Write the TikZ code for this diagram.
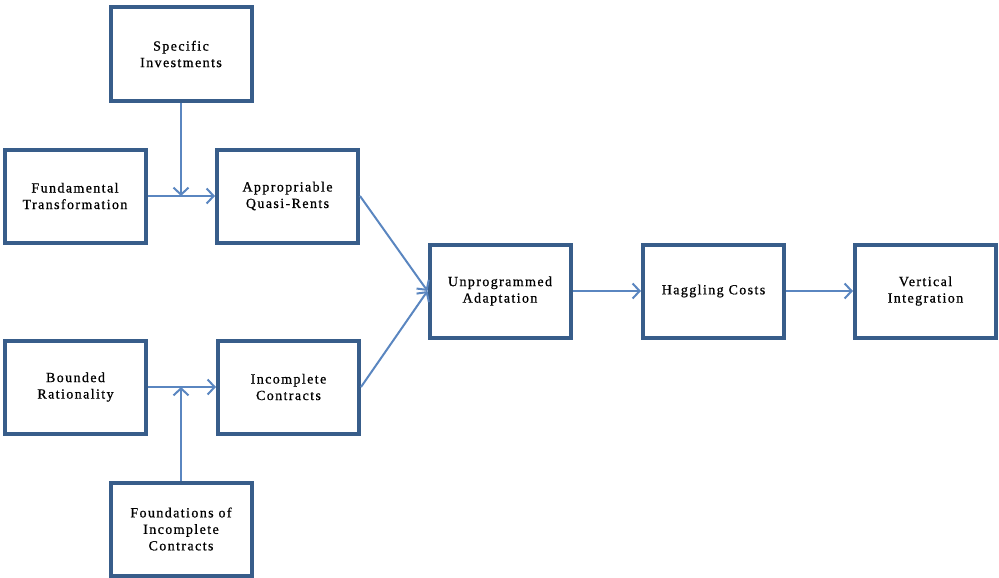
\documentclass[tikz,border=0pt]{standalone}
\usepackage{fontspec}
\setmainfont[LetterSpace=10,FakeBold=0.8]{Liberation Serif}
\usetikzlibrary{arrows.meta}
\definecolor{boxblue}{RGB}{56,93,138}
\definecolor{arrowblue}{RGB}{90,134,192}
\tikzset{
	box/.style={rectangle, draw=boxblue, line width=4pt, fill=white, minimum width=141pt, minimum height=93pt, align=center, inner sep=2pt, font=\fontsize{14}{16.5}\selectfont},
	arr/.style={-{Straight Barb[length=7pt,width=15pt]}, line width=2pt, draw=arrowblue}
}
\begin{document}
\begin{tikzpicture}[x=1pt,y=-1pt]
	\useasboundingbox (0,0) rectangle (999,578);

	\node[box](spec) at (181,54){Specific\\Investments};
	\node[box](fund) at (75,196){Fundamental\\Transformation};
	\node[box](appr) at (287.5,196){Appropriable\\Quasi-Rents};
	\node[box](bound) at (75.5,387){Bounded\\Rationality};
	\node[box](incomp) at (288.5,387){Incomplete\\Contracts};
	\node[box](found) at (181,529){Foundations of\\Incomplete\\Contracts};
	\node[box](unprog) at (500,291){Unprogrammed\\Adaptation};
	\node[box](haggle) at (713.5,291){Haggling Costs};
	\node[box](vert) at (925.5,291){Vertical\\Integration};

	\coordinate (jtop) at (181,196);
	\coordinate (jbot) at (181,387);

	\draw [arr] (fund) -- (appr);
	\draw [arr] (spec) -- (jtop);
	\draw [arr] (bound) -- (incomp);
	\draw [arr] (found) -- (jbot);
	\draw [arr] (appr.east) -- (unprog.west);
	\draw [arr] (incomp.east) -- (unprog.west);
	\draw [arr] (unprog) -- (haggle);
	\draw [arr] (haggle) -- (vert);

\end{tikzpicture}
\end{document}
